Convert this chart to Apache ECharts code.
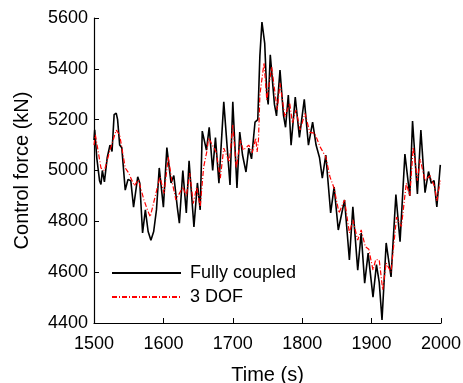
<!DOCTYPE html>
<html>
<head>
<meta charset="utf-8">
<script src="https://cdn.jsdelivr.net/npm/echarts@6/dist/echarts.min.js"></script>
<style>html,body{margin:0;padding:0;background:#fff}#c{width:463px;height:383px}</style>
</head>
<body>
<div id="c"></div>
<script>
// Fully coupled (black)
var timeFull = [1500,1501,1504,1508,1510,1512,1515,1519,1523,1526,1529,1532,1534,1537,1540,1545,1549,1553,1557,1563,1566,1570,1574,1578,1582,1586,1590,1594,1596,1600,1605,1607,1611,1615,1620,1623,1628,1630,1633,1637,1639,1644,1649,1653,1656,1658,1662,1666,1671,1675,1680,1687,1689,1696,1700,1702,1706,1710,1714,1719,1723,1727,1732,1736,1739,1742,1744,1746,1749,1751,1754,1756,1760,1763,1768,1773,1776,1780,1784,1790,1796,1803,1809,1815,1820,1825,1829,1834,1841,1846,1852,1861,1868,1873,1880,1885,1890,1895,1902,1907,1911,1915,1921,1928,1935,1941,1948,1950,1955,1959,1961,1966,1971,1977,1982,1986,1990,1994,1999];
var forceFull = [5120,5160,5050,4960,4945,5000,4955,5050,5100,5075,5220,5226,5200,5100,5090,4923,4965,4960,4856,4975,4950,4754,4845,4760,4726,4760,4845,5010,5014,4856,5090,5092,4951,4980,4856,4793,5000,5002,4833,5038,5041,4778,4951,4845,5155,5160,5080,5170,5000,5130,4950,5270,5277,4943,5270,5277,4931,5151,5061,4994,5088,5046,5190,5200,5450,5584,5580,5500,5300,5260,5455,5462,5260,5215,5395,5218,5170,5297,5100,5289,5130,5280,5100,5190,5100,5050,4970,5061,4833,4935,4766,4884,4648,4857,4608,4754,4557,4675,4502,4630,4560,4412,4715,4581,4905,4720,5065,5069,4900,5195,5199,4908,5159,4913,4996,4950,4960,4857,5022];
// 3 DOF (red)
var timeDof = [1500,1502,1510,1515,1523,1532,1537,1545,1550,1558,1564,1572,1577,1581,1583,1595,1601,1607,1612,1618,1628,1633,1638,1643,1648,1653,1658,1663,1665,1676,1682,1687,1695,1700,1705,1711,1715,1723,1728,1733,1735,1737,1739,1745,1749,1756,1764,1768,1775,1782,1786,1791,1797,1804,1811,1818,1826,1834,1840,1846,1853,1861,1868,1873,1880,1885,1891,1896,1902,1906,1911,1916,1921,1928,1936,1943,1950,1955,1960,1966,1970,1977,1984,1991,1994,1999];
var forceDof = [5100,5140,5010,5000,5080,5159,5140,5010,4990,4940,4963,4884,4845,4818,4840,4975,4910,5053,4963,4884,4935,4900,4990,4870,4935,4857,5014,5080,5128,5073,4970,5088,5033,5179,5010,5120,5080,5100,5070,5128,5073,5120,5297,5423,5277,5407,5238,5344,5211,5265,5186,5238,5160,5225,5150,5147,5092,5053,4975,4930,4833,4884,4754,4806,4726,4766,4700,4690,4608,4650,4648,4530,4636,4600,4817,4780,4950,4900,5092,4960,5045,4960,4980,4935,4880,4960];
var yTicks = [4400,4600,4800,5000,5200,5400,5600];
var xTicks = [1500,1600,1700,1800,1900,2000];

function pairs(t, v){ return t.map(function(x,i){ return [x, v[i]]; }); }
var font = 'Liberation Sans, Arial, sans-serif';
var chart = echarts.init(document.getElementById('c'));
chart.setOption({
  animation: false,
  backgroundColor: '#fff',
  grid: {left: 94, right: 22, top: 18, bottom: 60, containLabel: false, outerBoundsMode: 'none'},
  xAxis: {
    type: 'value', min: xTicks[0], max: xTicks[xTicks.length-1], interval: 100,
    name: 'Time (s)', nameLocation: 'middle', nameGap: 42,
    nameTextStyle: {fontFamily: font, fontSize: 20, color: '#000'},
    axisLine: {lineStyle: {color: '#000', width: 1.2}},
    axisTick: {inside: true, length: 5, lineStyle: {color: '#000'}},
    axisLabel: {fontFamily: font, fontSize: 18, color: '#000', margin: 12, formatter: function(v){return String(v);}},
    splitLine: {show: false}
  },
  yAxis: {
    type: 'value', min: yTicks[0], max: yTicks[yTicks.length-1], interval: 200,
    name: 'Control force (kN)', nameLocation: 'middle', nameGap: 62, nameRotate: 90,
    nameTextStyle: {fontFamily: font, fontSize: 20, color: '#000'},
    axisLine: {show: true, lineStyle: {color: '#000', width: 1.2}},
    axisTick: {show: true, inside: true, length: 5, lineStyle: {color: '#000'}},
    axisLabel: {fontFamily: font, fontSize: 18, color: '#000', margin: 6, formatter: function(v){return String(v);}},
    splitLine: {show: false}
  },
  legend: {
    orient: 'vertical', left: 106, top: 259, itemWidth: 69, itemHeight: 14, itemGap: 6,
    itemStyle: {opacity: 0},
    textStyle: {fontFamily: font, fontSize: 18, color: '#000', padding: [0,0,0,4]},
    data: ['Fully coupled', '3 DOF']
  },
  series: [
    {name: 'Fully coupled', type: 'line', data: pairs(timeFull, forceFull), showSymbol: false, symbol: 'none',
     lineStyle: {color: '#000', width: 1.6}, itemStyle: {color: '#000'}},
    {name: '3 DOF', type: 'line', data: pairs(timeDof, forceDof), showSymbol: false, symbol: 'none',
     lineStyle: {color: '#ff0000', width: 1.2, type: [5, 2, 1, 2]}, itemStyle: {color: '#ff0000'}}
  ]
});
</script>
</body>
</html>
